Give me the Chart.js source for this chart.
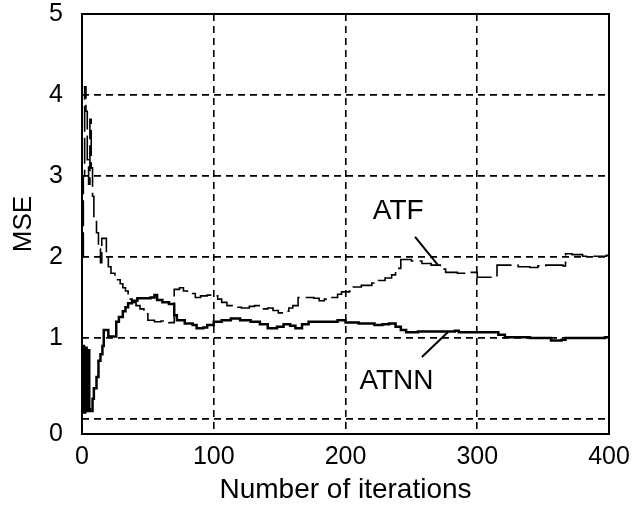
<!DOCTYPE html>
<html>
<head>
<meta charset="utf-8">
<script src="https://cdn.jsdelivr.net/npm/chart.js@4.4.1/dist/chart.umd.min.js"></script>
<style>
  html, body { margin: 0; padding: 0; background: #fff; }
  #c { display: block; }
</style>
</head>
<body>
<canvas id="c" width="635" height="507"></canvas>
<script>
// ---- data ----
const atnnX = [0, 1.5, 2.5, 3.5, 4.5, 5.5, 6, 8, 9, 11, 12.5, 14, 15.5, 16.5, 19, 20, 25, 26, 28, 31, 33, 35, 38, 42, 48, 52, 55, 57, 61, 66, 69, 70, 72, 78, 84, 87, 92, 95, 100, 106, 113, 120, 128, 135, 141, 148, 153, 158, 162, 167, 172, 180, 187, 194, 200, 210, 222, 228, 233, 238, 242, 246, 255, 270, 283, 286, 300, 311, 316, 321, 340, 354, 356, 364, 367, 385, 397, 400];
const atnnY = [0.9, 0.08, 0.88, 0.1, 0.85, 0.12, 0.1, 0.25, 0.38, 0.52, 0.72, 0.8, 0.9, 1.1, 1.1, 1.02, 1.02, 1.2, 1.26, 1.33, 1.38, 1.43, 1.46, 1.49, 1.49, 1.5, 1.53, 1.47, 1.44, 1.42, 1.42, 1.28, 1.22, 1.18, 1.16, 1.12, 1.13, 1.16, 1.2, 1.22, 1.24, 1.22, 1.2, 1.17, 1.12, 1.14, 1.17, 1.15, 1.12, 1.17, 1.2, 1.2, 1.2, 1.22, 1.19, 1.18, 1.16, 1.17, 1.18, 1.14, 1.1, 1.07, 1.08, 1.08, 1.09, 1.07, 1.07, 1.07, 1.04, 1.01, 1.0, 1.0, 0.97, 0.98, 1.0, 1.0, 1.01, 1.01];

const atfX = [0, 1, 2, 3, 4, 5, 6, 7, 8, 9, 11, 12.5, 14, 15, 18.5, 20, 22, 25, 27, 29, 31, 33, 35, 38, 41, 44, 47, 50, 55, 60, 66, 70, 74, 77, 80, 86, 90, 95, 100, 103, 106, 110, 115, 121, 127, 131, 136, 141, 145, 149, 153, 157, 160, 164, 170, 176, 180, 184, 188, 194, 197, 203, 206, 212, 220, 225, 230, 235, 238, 242, 250, 258, 265, 272, 276, 285, 293, 300, 311, 315, 325, 331, 340, 346, 352, 365, 367, 372, 380, 398, 400];
const atfY = [2.0, 3.0, 4.1, 3.8, 3.2, 2.9, 3.7, 3.1, 2.75, 2.5, 2.3, 2.1, 1.93, 2.23, 2.0, 1.88, 1.8, 1.78, 1.72, 1.67, 1.62, 1.58, 1.48, 1.44, 1.4, 1.36, 1.3, 1.22, 1.2, 1.21, 1.19, 1.6, 1.62, 1.58, 1.55, 1.5, 1.52, 1.53, 1.52, 1.48, 1.44, 1.4, 1.38, 1.37, 1.39, 1.4, 1.36, 1.37, 1.34, 1.31, 1.33, 1.37, 1.4, 1.5, 1.5, 1.49, 1.46, 1.48, 1.5, 1.54, 1.57, 1.58, 1.63, 1.65, 1.68, 1.71, 1.74, 1.78, 1.86, 1.97, 1.95, 1.92, 1.9, 1.85, 1.81, 1.8, 1.81, 1.75, 1.75, 1.9, 1.9, 1.88, 1.87, 1.89, 1.9, 1.89, 2.04, 2.03, 2.01, 2.02, 2.02];

const xTicks = [0, 100, 200, 300, 400];
const yTickValues = [-0.185, 0, 1, 2, 3, 4, 5];
const yTickLabels = ['0', '', '1', '2', '3', '4', '5'];

// annotation labels and pointer lines (data coordinates)
const labels = [
  { text: 'ATF', x: 240, y: 2.57 },
  { text: 'ATNN', x: 238.7, y: 0.46 }
];
const pointers = [
  { x1: 252.8, y1: 2.25, x2: 270.2, y2: 1.9 },
  { x1: 258, y1: 0.765, x2: 277.8, y2: 1.074 }
];

const FONT = '"Liberation Sans", Arial, Helvetica, sans-serif';
const toPts = (xs, ys) => xs.map((x, i) => ({ x: x, y: ys[i] }));

const framePlugin = {
  id: 'frame',
  afterDatasetsDraw(chart) {
    const { ctx, chartArea: a, scales } = chart;
    ctx.save();
    ctx.strokeStyle = '#000';
    ctx.lineWidth = 2;
    ctx.setLineDash([]);
    pointers.forEach(p => {
      ctx.beginPath();
      ctx.moveTo(scales.x.getPixelForValue(p.x1), scales.y.getPixelForValue(p.y1));
      ctx.lineTo(scales.x.getPixelForValue(p.x2), scales.y.getPixelForValue(p.y2));
      ctx.stroke();
    });
    ctx.fillStyle = '#000';
    ctx.font = '28px ' + FONT;
    ctx.textAlign = 'center';
    ctx.textBaseline = 'middle';
    labels.forEach(l => {
      ctx.fillText(l.text, scales.x.getPixelForValue(l.x), scales.y.getPixelForValue(l.y));
    });
    ctx.lineWidth = 2;
    ctx.strokeRect(a.left, a.top, a.right - a.left, a.bottom - a.top);
    ctx.restore();
  }
};

new Chart(document.getElementById('c'), {
  type: 'line',
  data: {
    datasets: [
      {
        label: 'ATNN',
        data: toPts(atnnX, atnnY),
        borderColor: '#000',
        borderWidth: 2.5,
        stepped: 'before',
        pointRadius: 0,
        fill: false
      },
      {
        label: 'ATF',
        data: toPts(atfX, atfY),
        borderColor: '#000',
        borderWidth: 1.6,
        borderDash: [26, 6],
        stepped: 'before',
        pointRadius: 0,
        fill: false
      }
    ]
  },
  options: {
    responsive: false,
    devicePixelRatio: 1,
    animation: false,
    events: [],
    layout: { padding: { left: 0, top: 14, right: 26, bottom: 0 } },
    plugins: { legend: { display: false }, tooltip: { enabled: false } },
    scales: {
      x: {
        type: 'linear',
        min: 0,
        max: 400,
        afterBuildTicks(scale) { scale.ticks = xTicks.map(v => ({ value: v })); },
        afterFit(scale) { scale.height = 73; scale.paddingLeft = 0; scale.paddingRight = 0; },
        ticks: {
          color: '#000',
          font: { family: FONT, size: 25 },
          padding: 8,
          maxRotation: 0,
          callback: v => String(v)
        },
        grid: {
          color: (c) => (c.tick && (c.tick.value === 0 || c.tick.value === 400)) ? 'rgba(0,0,0,0)' : '#000',
          lineWidth: 1.6,
          drawTicks: false
        },
        border: { display: false, dash: [7, 5] },
        title: {
          display: true,
          text: 'Number of iterations',
          color: '#000',
          font: { family: FONT, size: 28 },
          padding: { top: 0, bottom: 0 }
        }
      },
      y: {
        type: 'linear',
        min: -0.185,
        max: 5,
        afterBuildTicks(scale) { scale.ticks = yTickValues.map(v => ({ value: v })); },
        afterFit(scale) { scale.width = 82; scale.paddingTop = 0; scale.paddingBottom = 0; },
        ticks: {
          color: '#000',
          font: { family: FONT, size: 25 },
          padding: 19,
          callback: (v) => {
            const i = yTickValues.indexOf(v);
            return i >= 0 ? yTickLabels[i] : '';
          }
        },
        grid: {
          color: (c) => (c.tick && (c.tick.value === -0.185 || c.tick.value === 5)) ? 'rgba(0,0,0,0)' : '#000',
          lineWidth: 1.8,
          drawTicks: false
        },
        border: { display: false, dash: [7, 5] },
        title: {
          display: true,
          text: 'MSE',
          color: '#000',
          font: { family: FONT, size: 26 },
          padding: { top: 8, bottom: 0 }
        }
      }
    }
  },
  plugins: [framePlugin]
});
</script>
</body>
</html>
